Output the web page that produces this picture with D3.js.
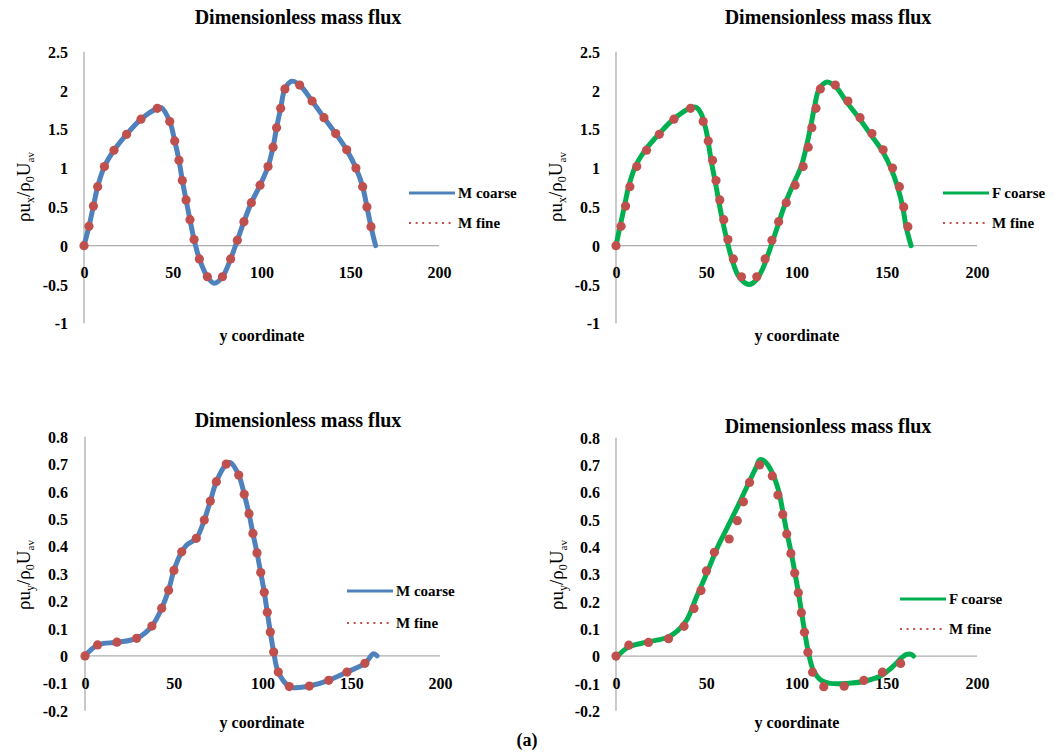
<!DOCTYPE html>
<html>
<head>
<meta charset="utf-8">
<script src="https://cdn.jsdelivr.net/npm/d3@7"></script>
<style>
  body { margin: 0; background: #fff; }
  svg { display: block; }
</style>
</head>
<body>
<svg id="chart" width="1054" height="752"></svg>
<script>
// ---- Data ----------------------------------------------------------------
// Dimensionless x mass flux (rho*u_x / rho0*U_av) against y coordinate
const fineUxY = [0, 2.8, 5.3, 7.7, 11.5, 16.9, 24, 32.1, 41.3, 48.3, 51.1, 53.5, 55.4, 57.5, 59.7, 62, 65, 69.5,
  78, 82.6, 86.4, 90.1, 94.3, 99.2, 103.7, 106.5, 108.5, 110.8, 113.2, 121.5, 128.5, 135.2, 141.8, 148, 153.2, 157, 159.4, 161.7];
const fineUx = [0, 0.25, 0.51, 0.76, 1.02, 1.23, 1.435, 1.63, 1.77, 1.60, 1.35, 1.10, 0.84, 0.59, 0.335, 0.08, -0.17, -0.40,
  -0.40, -0.17, 0.07, 0.31, 0.555, 0.78, 1.02, 1.27, 1.52, 1.77, 2.02, 2.07, 1.865, 1.65, 1.445, 1.235, 1.00, 0.76, 0.50, 0.245];

const mCoarseUxY = [0, 2.8, 5.3, 7.7, 11.5, 16.9, 24, 32.1, 41.3, 43.5, 48.3, 51.1, 53.5, 55.4, 57.5, 59.7, 62, 65, 69.5, 73.4,
  78, 82.6, 86.4, 90.1, 94.3, 99.2, 103.7, 106.5, 108.5, 110.8, 113.2, 117, 121.5, 128.5, 135.2, 141.8, 148, 153.2, 157, 159.4, 161.7, 164.3];
const mCoarseUx = [0, 0.25, 0.51, 0.76, 1.02, 1.23, 1.435, 1.63, 1.77, 1.78, 1.60, 1.35, 1.10, 0.84, 0.59, 0.335, 0.08, -0.17, -0.40, -0.485,
  -0.40, -0.17, 0.07, 0.31, 0.555, 0.78, 1.02, 1.27, 1.52, 1.77, 2.02, 2.12, 2.07, 1.865, 1.65, 1.445, 1.235, 1.00, 0.76, 0.50, 0.245, 0];

const fCoarseUxY = [0, 2.2, 4.6, 7, 10.7, 16.3, 23.7, 31.4, 40.7, 44.4, 47.1, 49.9, 52.7, 55.5, 58.2, 61, 63.8, 67.5, 71.2, 74,
  77.7, 81.4, 85.1, 88.8, 93.4, 98, 102.6, 105.4, 107.8, 110, 112.4, 117, 122, 127.5, 134.9, 141.3, 147.8, 152.4, 156.1, 158.9, 160.7, 163.5];
const fCoarseUx = [0, 0.245, 0.5, 0.76, 1.02, 1.235, 1.437, 1.62, 1.77, 1.783, 1.706, 1.49, 1.10, 0.76, 0.417, 0.116, -0.14, -0.377, -0.476, -0.50,
  -0.443, -0.29, -0.056, 0.2, 0.52, 0.78, 1.02, 1.27, 1.53, 1.79, 2.01, 2.11, 2.04, 1.86, 1.636, 1.425, 1.21, 0.994, 0.75, 0.494, 0.245, 0];

// Dimensionless y mass flux (rho*u_y / rho0*U_av) against y coordinate
const fineUyY = [0, 7.1, 18, 29.1, 37.7, 43.2, 47.1, 50.1, 54.5, 62.7, 67.2, 70.6, 74, 79.6, 86.6, 89.7, 92.4, 94.6, 96.9,
  99, 101, 102.7, 104.4, 106.3, 108.9, 115.1, 126.4, 137.3, 147.6, 157.7];
const fineUy = [0, 0.04, 0.05, 0.064, 0.109, 0.174, 0.24, 0.312, 0.38, 0.429, 0.496, 0.565, 0.636, 0.70, 0.66, 0.59, 0.519, 0.447, 0.376,
  0.304, 0.232, 0.159, 0.087, 0.014, -0.059, -0.112, -0.11, -0.089, -0.059, -0.027];

const mCoarseUyY = [0, 7.1, 18, 29.1, 37.7, 43.2, 47.1, 50.1, 54.5, 57.3, 62.7, 67.2, 70.6, 74, 79.6, 81.7, 86.6, 89.7, 92.4, 94.6, 96.9,
  99, 101, 102.7, 104.4, 106.3, 108.9, 115.1, 118, 126.4, 137.3, 147.6, 157.7, 162.5, 164.5];
const mCoarseUy = [0, 0.04, 0.05, 0.064, 0.109, 0.174, 0.24, 0.312, 0.38, 0.405, 0.429, 0.496, 0.565, 0.636, 0.70, 0.706, 0.66, 0.59, 0.519, 0.447, 0.376,
  0.304, 0.232, 0.159, 0.087, 0.014, -0.059, -0.112, -0.116, -0.11, -0.089, -0.059, -0.027, 0.008, 0];

const fCoarseUyY = [0, 6.9, 17.6, 28.7, 34.2, 39.2, 44.7, 50.7, 56, 62, 68, 73.5, 77.5, 79.8, 82.6, 86.3, 90, 92.4, 94.6, 97,
  99, 101, 102.8, 104.5, 106.4, 109.3, 113.9, 118.6, 127.8, 137, 146.2, 153.6, 158.3, 161, 163.8, 164.8];
const fCoarseUy = [-0.006, 0.033, 0.052, 0.069, 0.093, 0.132, 0.218, 0.31, 0.395, 0.475, 0.556, 0.634, 0.69, 0.72, 0.712, 0.675, 0.608, 0.53, 0.455, 0.38,
  0.31, 0.235, 0.16, 0.09, 0.02, -0.051, -0.09, -0.10, -0.10, -0.093, -0.074, -0.037, -0.006, 0.006, 0.006, 0];

// Axis ticks
const xTicks = [0, 50, 100, 150, 200];
const yTicksUx = [2.5, 2, 1.5, 1, 0.5, 0, -0.5, -1];
const yTicksUy = [0.8, 0.7, 0.6, 0.5, 0.4, 0.3, 0.2, 0.1, 0, -0.1, -0.2];

const titleText = "Dimensionless mass flux";
const xTitleText = "y coordinate";

// ---- Colours and fonts ----------------------------------------------------
const BLUE = "#4F81BD", GREEN = "#00B050", RED = "#C0504D", AXIS = "#ADADAD";
const SERIF = '"Liberation Serif"';

// ---- Panel layout ---------------------------------------------------------
const panels = [
  { coarseX: mCoarseUxY, coarseV: mCoarseUx, fineX: fineUxY, fineV: fineUx, color: BLUE, coarseName: "M coarse",
    comp: "x", yDomain: [2.5, -1], yTicks: yTicksUx,
    x0: 84, x1: 439, yTop: 51.7, yBot: 323.3, xLabelY: 272, yLabelX: 68,
    titleX: 298, titleY: 24, yTitleX: 23, yTitleY: 187, xTitleX: 262, xTitleY: 341,
    legX: 409, legY: 193, legGap: 30 },
  { coarseX: fCoarseUxY, coarseV: fCoarseUx, fineX: fineUxY, fineV: fineUx, color: GREEN, coarseName: "F coarse",
    comp: "x", yDomain: [2.5, -1], yTicks: yTicksUx,
    x0: 616, x1: 977, yTop: 51.7, yBot: 323.3, xLabelY: 272, yLabelX: 600,
    titleX: 828, titleY: 24, yTitleX: 555, yTitleY: 187, xTitleX: 797, xTitleY: 341,
    legX: 943, legY: 193, legGap: 30 },
  { coarseX: mCoarseUyY, coarseV: mCoarseUy, fineX: fineUyY, fineV: fineUy, color: BLUE, coarseName: "M coarse",
    comp: "y", yDomain: [0.8, -0.2], yTicks: yTicksUy,
    x0: 85, x1: 440, yTop: 436.7, yBot: 710.7, xLabelY: 683.3, yLabelX: 68,
    titleX: 298, titleY: 427, yTitleX: 23, yTitleY: 575, xTitleX: 262, xTitleY: 728,
    legX: 347, legY: 591, legGap: 32 },
  { coarseX: fCoarseUyY, coarseV: fCoarseUy, fineX: fineUyY, fineV: fineUy, color: GREEN, coarseName: "F coarse",
    comp: "y", yDomain: [0.8, -0.2], yTicks: yTicksUy,
    x0: 616, x1: 977, yTop: 437.7, yBot: 710.7, xLabelY: 683.3, yLabelX: 600,
    titleX: 828, titleY: 433, yTitleX: 556, yTitleY: 575, xTitleX: 797, xTitleY: 728,
    legX: 900, legY: 599, legGap: 30 }
];

const svg = d3.select("#chart");

function styleText(sel, size, bold) {
  return sel.style("font-family", SERIF).style("font-size", size + "px")
    .style("font-weight", bold ? "bold" : "normal").attr("fill", "#000");
}

panels.forEach(p => {
  const g = svg.append("g");
  const x = d3.scaleLinear().domain([0, 200]).range([p.x0, p.x1]);
  const y = d3.scaleLinear().domain(p.yDomain).range([p.yTop, p.yBot]);

  // axis lines: vertical at y coordinate 0, horizontal at zero flux
  g.append("line").attr("x1", x(0)).attr("x2", x(0)).attr("y1", y(p.yDomain[0])).attr("y2", y(p.yDomain[1]))
    .attr("stroke", AXIS).attr("stroke-width", 1.3);
  g.append("line").attr("x1", x(0)).attr("x2", x(200)).attr("y1", y(0)).attr("y2", y(0))
    .attr("stroke", AXIS).attr("stroke-width", 1.3);

  // tick labels
  const xAxis = d3.axisBottom(x).tickValues(xTicks).tickSize(0).tickPadding(0).tickFormat(d => String(d));
  const gx = g.append("g").attr("transform", `translate(0,${p.xLabelY})`).call(xAxis);
  gx.attr("font-family", null).attr("font-size", null);
  gx.select(".domain").remove();
  styleText(gx.selectAll("text").attr("dy", "0.35em").attr("y", 0), 16, true);

  const yAxis = d3.axisLeft(y).tickValues(p.yTicks).tickSize(0).tickPadding(0).tickFormat(d => String(d));
  const gy = g.append("g").attr("transform", `translate(${p.yLabelX},0)`).call(yAxis);
  gy.attr("font-family", null).attr("font-size", null);
  gy.select(".domain").remove();
  styleText(gy.selectAll("text").attr("dy", "0.35em").attr("x", 0), 16, true);

  // coarse-grid curve
  const line = d3.line().x(d => x(d[0])).y(d => y(d[1])).curve(d3.curveCatmullRom.alpha(0.5));
  g.append("path").datum(d3.zip(p.coarseX, p.coarseV)).attr("d", line)
    .attr("fill", "none").attr("stroke", p.color).attr("stroke-width", 5)
    .attr("stroke-linejoin", "round").attr("stroke-linecap", "round");

  // fine-grid points
  g.selectAll("circle.fine").data(d3.zip(p.fineX, p.fineV)).join("circle").attr("class", "fine")
    .attr("cx", d => x(d[0])).attr("cy", d => y(d[1])).attr("r", 4.6).attr("fill", RED);

  // titles
  styleText(g.append("text").attr("x", p.titleX).attr("y", p.titleY).attr("text-anchor", "middle"), 20, true)
    .text(titleText);
  styleText(g.append("text").attr("x", p.xTitleX).attr("y", p.xTitleY).attr("text-anchor", "middle"), 16, true)
    .text(xTitleText);

  const yt = styleText(g.append("text").attr("transform", `translate(${p.yTitleX},${p.yTitleY}) rotate(-90)`)
    .attr("text-anchor", "middle").attr("dy", "0.35em"), 19, false);
  yt.append("tspan").text("\u03C1u");
  yt.append("tspan").attr("dy", 4).style("font-size", "12px").text(p.comp);
  yt.append("tspan").attr("dy", -4).text("/\u03C1");
  yt.append("tspan").attr("dy", 4).style("font-size", "12px").text("0");
  yt.append("tspan").attr("dy", -4).text("U");
  yt.append("tspan").attr("dy", 4).style("font-size", "11px").text("av");

  // legend
  const lg = g.append("g");
  lg.append("line").attr("x1", p.legX).attr("x2", p.legX + 46).attr("y1", p.legY).attr("y2", p.legY)
    .attr("stroke", p.color).attr("stroke-width", 3);
  styleText(lg.append("text").attr("x", p.legX + 49).attr("y", p.legY + 5), 15, true).text(p.coarseName);
  lg.append("line").attr("x1", p.legX).attr("x2", p.legX + 43).attr("y1", p.legY + p.legGap).attr("y2", p.legY + p.legGap)
    .attr("stroke", RED).attr("stroke-width", 2).attr("stroke-dasharray", "2,4.6");
  styleText(lg.append("text").attr("x", p.legX + 49).attr("y", p.legY + p.legGap + 5), 15, true).text("M fine");
});

// figure label
styleText(svg.append("text").attr("x", 527).attr("y", 746).attr("text-anchor", "middle"), 18, true).text("(a)");
</script>
</body>
</html>
